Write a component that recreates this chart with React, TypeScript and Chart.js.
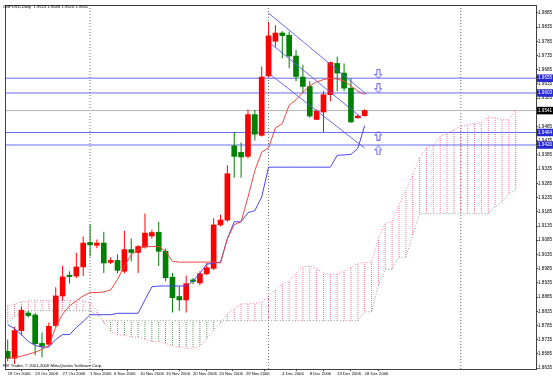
import React, { useEffect, useRef } from 'react';
import { Chart, registerables } from 'chart.js';
Chart.register(...registerables);

// ---- data (bar index 0 = first visible daily bar) ----
const OPEN = [1.8694,1.8670,1.8767,1.8829,1.8822,1.8722,1.8719,1.8785,1.8889,1.8961,1.8959,1.8991,1.9077,1.9067,1.9075,1.9007,1.9014,1.8976,1.9052,1.9042,1.9061,1.9100,1.9113,1.9046,1.8955,1.8887,1.8875,1.8943,1.8935,1.8967,1.8986,1.9139,1.9156,1.9417,1.9394,1.9380,1.9527,1.9454,1.9663,1.9785,1.9814,1.9806,1.9733,1.9659,1.9626,1.9510,1.9536,1.9597,1.9707,1.9673,1.9620,1.9516,1.9523];
const HIGH = [1.8736,1.8781,1.8851,1.8837,1.8830,1.8760,1.8796,1.8920,1.8994,1.8976,1.9040,1.9098,1.9140,1.9088,1.9115,1.9025,1.9035,1.9118,1.9091,1.9067,1.9179,1.9122,1.9150,1.9056,1.8970,1.8924,1.8961,1.8952,1.8976,1.9005,1.9162,1.9175,1.9349,1.9466,1.9429,1.9545,1.9544,1.9696,1.9853,1.9841,1.9820,1.9819,1.9754,1.9702,1.9644,1.9545,1.9609,1.9713,1.9731,1.9707,1.9655,1.9526,1.9546];
const LOW = [1.8659,1.8650,1.8750,1.8813,1.8680,1.8673,1.8712,1.8778,1.8872,1.8934,1.8952,1.8959,1.9028,1.9057,1.8970,1.9001,1.8969,1.8969,1.9011,1.8970,1.9056,1.9091,1.8994,1.8941,1.8831,1.8837,1.8831,1.8931,1.8927,1.8962,1.8980,1.9133,1.9150,1.9305,1.9305,1.9373,1.9436,1.9450,1.9659,1.9766,1.9725,1.9690,1.9644,1.9603,1.9516,1.9508,1.9464,1.9574,1.9609,1.9609,1.9498,1.9512,1.9520];
const CLOSE = [1.8670,1.8767,1.8839,1.8820,1.8721,1.8712,1.8782,1.8889,1.8956,1.8957,1.8991,1.9075,1.9069,1.9075,1.9005,1.9014,1.8979,1.9052,1.9042,1.9063,1.9110,1.9112,1.9046,1.8953,1.8883,1.8875,1.8932,1.8940,1.8967,1.8988,1.9139,1.9156,1.9319,1.9380,1.9378,1.9527,1.9458,1.9659,1.9804,1.9814,1.9805,1.9733,1.9661,1.9626,1.9522,1.9539,1.9597,1.9710,1.9673,1.9620,1.9501,1.9522,1.9541];

const TENKAN = [1.8670,1.8672,1.8677,1.8684,1.8691,1.8701,1.8715,1.8779,1.8825,1.8854,1.8872,1.8889,1.8901,1.8901,1.8903,1.8910,1.8947,1.8994,1.9034,1.9052,1.9063,1.9063,1.9063,1.9046,1.9011,1.9008,1.9008,1.9008,1.9008,1.9008,1.9008,1.9005,1.9090,1.9140,1.9150,1.9236,1.9330,1.9395,1.9410,1.9480,1.9495,1.9560,1.9579,1.9605,1.9628,1.9642,1.9650,1.9655,1.9652,1.9645,1.9628,1.9610,1.9598];
const KIJUN = [1.8788,1.8774,1.8753,1.8729,1.8715,1.8709,1.8709,1.8736,1.8753,1.8753,1.8778,1.8799,1.8823,1.8823,1.8823,1.8823,1.8828,1.8828,1.8828,1.8828,1.8875,1.8921,1.8924,1.8924,1.8924,1.8924,1.8924,1.8941,1.8969,1.9001,1.9004,1.9008,1.9091,1.9150,1.9150,1.9182,1.9189,1.9237,1.9342,1.9342,1.9342,1.9342,1.9342,1.9342,1.9342,1.9342,1.9342,1.9342,1.9384,1.9385,1.9387,1.9408,1.9488];
const SPAN_A = [1.8854,1.8861,1.8868,1.8872,1.8872,1.8872,1.8872,1.8872,1.8872,1.8872,1.8872,1.8872,1.8865,1.8837,1.8795,1.8764,1.8753,1.8750,1.8746,1.8743,1.8736,1.8729,1.8729,1.8722,1.8715,1.8708,1.8705,1.8705,1.8712,1.8739,1.8767,1.8792,1.8827,1.8844,1.8861,1.8861,1.8863,1.8868,1.8889,1.8910,1.8931,1.8941,1.8969,1.8992,1.8994,1.8985,1.8969,1.8966,1.8966,1.8976,1.8990,1.9004,1.9006,1.9008,1.9091,1.9145,1.9150,1.9210,1.9260,1.9317,1.9377,1.9411,1.9418,1.9450,1.9460,1.9474,1.9485,1.9492,1.9495,1.9499,1.9519,1.9516,1.9509,1.9509,1.9544];
const SPAN_B = [1.8795,1.8816,1.8830,1.8837,1.8837,1.8837,1.8837,1.8837,1.8837,1.8837,1.8837,1.8837,1.8837,1.8823,1.8802,1.8802,1.8802,1.8802,1.8802,1.8802,1.8802,1.8802,1.8802,1.8802,1.8802,1.8802,1.8802,1.8802,1.8802,1.8802,1.8802,1.8802,1.8802,1.8802,1.8802,1.8802,1.8802,1.8802,1.8802,1.8802,1.8802,1.8802,1.8802,1.8802,1.8802,1.8802,1.8802,1.8802,1.8802,1.8802,1.8802,1.8802,1.8833,1.8833,1.8927,1.8983,1.8983,1.9025,1.9025,1.9102,1.9178,1.9178,1.9178,1.9178,1.9178,1.9178,1.9178,1.9178,1.9178,1.9178,1.9178,1.9203,1.9220,1.9248,1.9262];

const BLUE_LEVELS = [1.9655, 1.9603, 1.9464, 1.9420];
const BID_LEVEL = 1.9541;
const SEPARATOR_BARS = [12, 38, 66];
const CHANNEL_TOP = [[38, 1.9884], [52.3, 1.9598]];
const CHANNEL_MID = [[38.4, 1.9775], [51.6, 1.9515]];
const CHANNEL_LOW = [[38.3, 1.9667], [52, 1.9409]];
const ARROWS_DOWN = [[54, 1.9670], [54, 1.9620]];
const ARROWS_UP = [[54, 1.9453], [54, 1.9401]];

const PRICE_TICKS = [1.8635,1.8685,1.8735,1.8785,1.8835,1.8885,1.8935,1.8985,1.9035,1.9085,1.9135,1.9185,1.9235,1.9285,1.9335,1.9385,1.9435,1.9485,1.9585,1.9635,1.9685,1.9735,1.9785,1.9835,1.9885];
const DATE_LABELS = ['19 Oct 2006','23 Oct 2006','27 Oct 2006','1 Nov 2006','6 Nov 2006','10 Nov 2006','15 Nov 2006','20 Nov 2006','24 Nov 2006','29 Nov 2006','4 Dec 2006','8 Dec 2006','13 Dec 2006','18 Dec 2006'];
const DATE_BARS = [0, 4, 8, 12, 15.5, 19.3, 23.1, 27, 30.8, 34.7, 40, 44, 48, 52];

const TITLE = 'GBPUSD,Daily  1.9523 1.9546 1.9520 1.9541';
const COPYRIGHT = 'FXI Trader, \u00A9 2001-2006 MetaQuotes Software Corp.';

const X_MIN = -0.245, X_MAX = 76.955, Y_MIN = 1.8632, Y_MAX = 1.9909;

const UP_COLOR = '#ff0000';
const DOWN_COLOR = '#008000';
const BLUE_LINE = 'rgba(90,90,240,0.9)';
const FONT = '"Liberation Sans", Arial, sans-serif';

export default function App() {
  const ref = useRef<HTMLCanvasElement>(null);
  useEffect(() => {
    document.body.style.margin = '0';
    const canvas = ref.current!;
    const mainCtx = canvas.getContext('2d')!;
    const mkPattern = (color: string) => {
      const c = document.createElement('canvas');
      c.width = 1; c.height = 2;
      const g = c.getContext('2d')!;
      g.fillStyle = color; g.fillRect(0, 0, 1, 1);
      return mainCtx.createPattern(c, 'repeat')!;
    };
    const mkArrow = (up: boolean) => {
      const c = document.createElement('canvas');
      c.width = 8; c.height = 10;
      const g = c.getContext('2d')!;
      g.strokeStyle = 'rgb(100,100,230)'; g.lineWidth = 1;
      const pts = [[4, 0.5], [7.5, 4.5], [5.5, 4.5], [5.5, 9.5], [2.5, 9.5], [2.5, 4.5], [0.5, 4.5]];
      g.beginPath();
      pts.forEach(([x, y], i) => {
        const yy = up ? y : 10 - y;
        if (i) g.lineTo(x, yy); else g.moveTo(x, yy);
      });
      g.closePath(); g.stroke();
      return c;
    };

    const idx = OPEN.map((_, i) => i);
    const candleColors = idx.map(i => (CLOSE[i] >= OPEN[i] ? UP_COLOR : DOWN_COLOR));
    const pinkHatch = SPAN_A.map((a, i) => (a > SPAN_B[i] ? { x: i, y: [SPAN_B[i], a] } : null)).filter(Boolean);
    const greenHatch = SPAN_A.map((a, i) => (a <= SPAN_B[i] ? { x: i, y: [a, SPAN_B[i]] } : null)).filter(Boolean);
    const markValues = [...BLUE_LEVELS, BID_LEVEL];
    const isMark = (v: number) => markValues.some(m => Math.abs(m - v) < 1e-7);

    const hLine = (lvl: number, color: string, order: number) => ({
      type: 'line', data: [{ x: X_MIN, y: lvl }, { x: X_MAX, y: lvl }],
      borderColor: color, borderWidth: 1, pointRadius: 0, order,
    });
    const seg = (pts: number[][], color: string, order: number) => ({
      type: 'line', data: pts.map(([x, y]) => ({ x, y })),
      borderColor: color, borderWidth: 1, pointRadius: 0, order,
    });

    const datasets: any[] = [
      { type: 'bar', data: pinkHatch, backgroundColor: mkPattern('rgb(255,110,150)'), barThickness: 1, grouped: false, inflateAmount: 0, borderWidth: 0, order: 20 },
      { type: 'bar', data: greenHatch, backgroundColor: mkPattern('rgb(90,150,90)'), barThickness: 1, grouped: false, inflateAmount: 0, borderWidth: 0, order: 20 },
      { type: 'line', data: SPAN_A.map((v, i) => ({ x: i, y: v })), borderColor: 'rgb(255,120,160)', borderDash: [1, 2], borderWidth: 1, pointRadius: 0, order: 19 },
      { type: 'line', data: SPAN_B.map((v, i) => ({ x: i, y: v })), borderColor: 'rgb(130,160,130)', borderDash: [1, 2], borderWidth: 1, pointRadius: 0, order: 19 },
      ...SEPARATOR_BARS.map(b => ({
        type: 'line', data: [{ x: b, y: Y_MIN }, { x: b, y: Y_MAX }],
        borderColor: '#707070', borderDash: [1, 2], borderWidth: 1, pointRadius: 0, order: 18,
      })),
      ...BLUE_LEVELS.map(l => hLine(l, BLUE_LINE, 17)),
      hLine(BID_LEVEL, '#b4b4b4', 17),
      { type: 'bar', data: idx.map(i => ({ x: i, y: [LOW[i], HIGH[i]] })), backgroundColor: candleColors, barThickness: 1, grouped: false, inflateAmount: 0, borderWidth: 0, order: 10 },
      { type: 'bar', data: idx.map(i => ({ x: i, y: [OPEN[i], CLOSE[i]] })), backgroundColor: candleColors, barThickness: 5, grouped: false, minBarLength: 1.5, borderWidth: 0, order: 9 },
      { type: 'line', data: TENKAN.map((v, i) => ({ x: i, y: v })), borderColor: 'rgb(240,70,70)', borderWidth: 1, pointRadius: 0, order: 5 },
      { type: 'line', data: KIJUN.map((v, i) => ({ x: i, y: v })), borderColor: 'rgb(70,70,235)', borderWidth: 1, pointRadius: 0, order: 5 },
      seg(CHANNEL_TOP, BLUE_LINE, 3),
      seg(CHANNEL_MID, BLUE_LINE, 3),
      seg(CHANNEL_LOW, BLUE_LINE, 3),
      { type: 'line', data: ARROWS_DOWN.map(([x, y]) => ({ x, y })), showLine: false, pointStyle: mkArrow(false), pointRadius: 5, order: 1 },
      { type: 'line', data: ARROWS_UP.map(([x, y]) => ({ x, y })), showLine: false, pointStyle: mkArrow(true), pointRadius: 5, order: 1 },
    ];

    const textPlugin = {
      id: 'mtText',
      afterDraw(chart: any) {
        const { ctx, chartArea: a } = chart;
        ctx.save();
        ctx.strokeStyle = '#404040';
        ctx.lineWidth = 1;
        ctx.strokeRect(a.left - 0.5, a.top - 0.5, a.right - a.left + 1, a.bottom - a.top + 1);
        ctx.fillStyle = '#000';
        ctx.textBaseline = 'middle';
        ctx.font = '4.2px ' + FONT;
        ctx.fillText(TITLE, 3, 7);
        ctx.fillText(COPYRIGHT, 3, 366);
        ctx.restore();
      },
    };

    const chart = new Chart(canvas, {
      type: 'line',
      data: { datasets },
      plugins: [textPlugin],
      options: {
        responsive: false,
        animation: false,
        devicePixelRatio: 1,
        layout: { padding: { left: 1, top: 2, right: 0, bottom: 0 } },
        plugins: { legend: { display: false }, tooltip: { enabled: false } },
        elements: { line: { tension: 0 } },
        scales: {
          x: {
            type: 'linear', min: X_MIN, max: X_MAX, offset: false, bounds: 'data',
            afterBuildTicks: (s: any) => { s.ticks = DATE_BARS.map(v => ({ value: v })); },
            afterFit: (s: any) => { s.height = 9; },
            ticks: {
              autoSkip: false, maxRotation: 0, align: 'start', padding: 0,
              font: { family: FONT, size: 4.2 }, color: '#000',
              callback: (_v: any, i: number) => DATE_LABELS[i],
            },
            grid: { drawOnChartArea: false, tickLength: 2, color: '#404040' },
            border: { display: false },
          },
          y: {
            type: 'linear', position: 'right', min: Y_MIN, max: Y_MAX, bounds: 'data',
            afterBuildTicks: (s: any) => {
              s.ticks = [...PRICE_TICKS, ...markValues].map(v => ({ value: v }));
            },
            afterFit: (s: any) => { s.width = 17; },
            ticks: {
              autoSkip: false, padding: 0,
              font: { family: FONT, size: 4.6 },
              color: (c: any) => (isMark(c.tick.value) ? '#ffffff' : '#000000'),
              showLabelBackdrop: (c: any) => isMark(c.tick.value),
              backdropColor: (c: any) => (Math.abs(c.tick.value - BID_LEVEL) < 1e-7 ? '#000000' : 'rgb(40,40,210)'),
              backdropPadding: { x: 1, y: 1 },
              callback: (v: any) => Number(v).toFixed(4),
            },
            grid: { drawOnChartArea: false, tickLength: 2, color: '#404040' },
            border: { display: false },
          },
        },
      } as any,
    } as any);
    return () => chart.destroy();
  }, []);
  return <canvas ref={ref} width={553} height={378} style={{ display: 'block' }} />;
}
